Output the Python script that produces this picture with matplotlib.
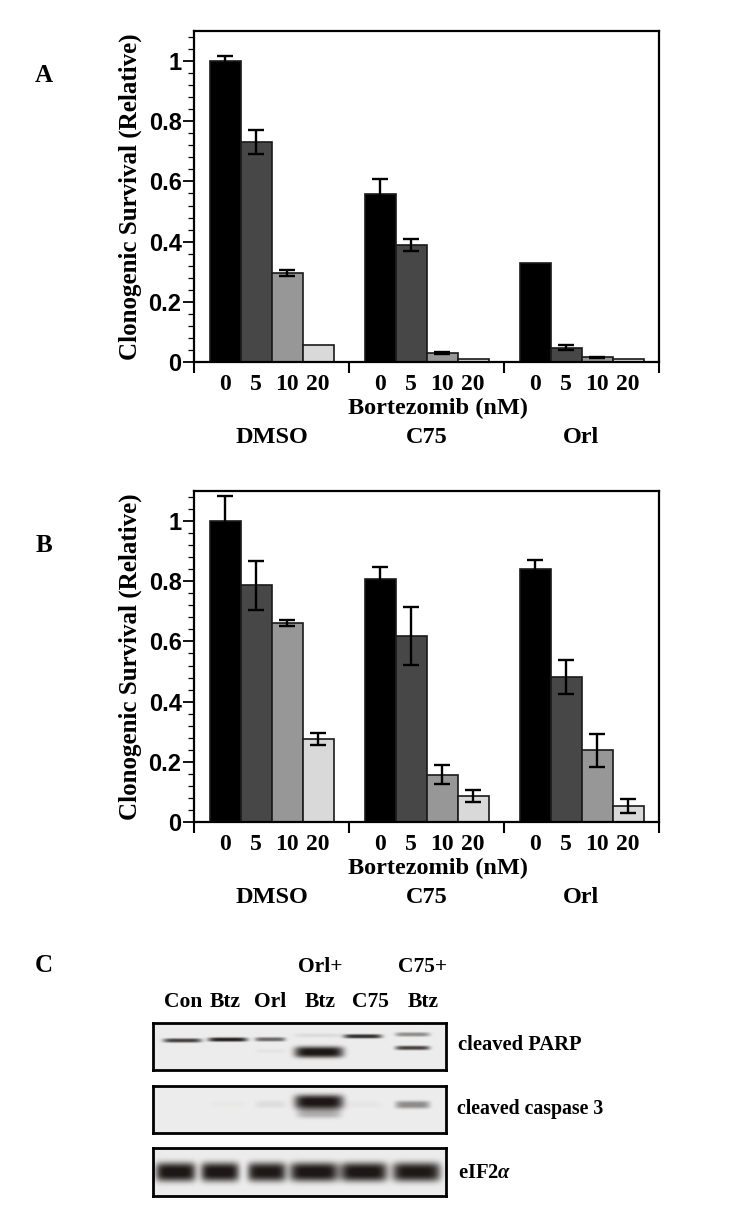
import numpy as np
import matplotlib
matplotlib.use('Agg')
import matplotlib.pyplot as plt
from matplotlib.ticker import MultipleLocator, FixedLocator
from matplotlib.colors import LinearSegmentedColormap
import matplotlib.transforms as mtrans

# ---- data ----
groups = ['DMSO', 'C75', 'Orl']
doses = ['0', '5', '10', '20']

a_dmso = [1.00, 0.73, 0.297, 0.056]
a_c75 = [0.559, 0.388, 0.029, 0.009]
a_orl = [0.328, 0.048, 0.016, 0.010]
a_dmso_err = [0.016, 0.04, 0.01, 0.0]
a_c75_err = [0.05, 0.02, 0.003, 0.0]
a_orl_err = [0.0, 0.007, 0.002, 0.0]

b_dmso = [1.00, 0.786, 0.661, 0.275]
b_c75 = [0.806, 0.618, 0.157, 0.086]
b_orl = [0.842, 0.482, 0.238, 0.052]
b_dmso_err = [0.083, 0.08, 0.01, 0.02]
b_c75_err = [0.04, 0.095, 0.032, 0.02]
b_orl_err = [0.03, 0.058, 0.055, 0.023]

# western blot (lane intensities, 0..1)
lane_lab = ['Con', 'Btz', 'Orl', 'Btz', 'C75', 'Btz']
lane_top = ['', '', '', 'Orl+', '', 'C75+']
lane_lab_x = [0.61, 1.47, 2.40, 3.42, 4.46, 5.53]
lane_x = [0.60, 1.53, 2.40, 3.40, 4.30, 5.32]
lane_w = [0.78, 0.80, 0.62, 1.00, 0.78, 0.70]
parp_hi = [0.80, 0.95, 0.62, 0.08, 0.88, 0.45]
parp_hi_y = [0.63, 0.65, 0.655, 0.74, 0.72, 0.76]
parp_lo = [0.0, 0.0, 0.04, 1.0, 0.0, 0.80]
parp_lo_y = [0.40, 0.40, 0.40, 0.38, 0.40, 0.47]
casp = [0.0, 0.02, 0.07, 1.0, 0.03, 0.45]
casp_y = [0.60, 0.60, 0.60, 0.65, 0.60, 0.59]
eif_x = [0.46, 1.37, 2.33, 3.30, 4.32, 5.40]
eif_w = [0.82, 0.78, 0.78, 1.00, 0.96, 0.98]
eif = [1.0, 1.0, 0.98, 1.0, 1.0, 0.98]

bar_colors = ['#000000', '#474747', '#979797', '#d9d9d9']

plt.rcParams['font.family'] = ['Liberation Serif', 'DejaVu Serif']
plt.rcParams['font.weight'] = 'bold'
plt.rcParams['mathtext.fontset'] = 'custom'
plt.rcParams['mathtext.rm'] = 'Liberation Serif:bold'
plt.rcParams['mathtext.it'] = 'Liberation Serif:italic:bold'
plt.rcParams['mathtext.bf'] = 'Liberation Serif:bold'

W, H = 750, 1224
fig = plt.figure(figsize=(W / 100, H / 100), dpi=100)


def fx(px):
    return px / W


def fy(py):
    return 1 - py / H


def bar_panel(ax, vals, errs):
    bw = 0.2
    for g, (v, e) in enumerate(zip(vals, errs)):
        xs = g + 0.1 + bw / 2 + bw * np.arange(4)
        ax.bar(xs, v, width=bw, color=bar_colors, edgecolor='#1a1a1a',
               linewidth=1.2, zorder=2)
        for x, vv, ee in zip(xs, v, e):
            if ee > 0:
                ax.errorbar(x, vv, yerr=ee, fmt='none', ecolor='black',
                            elinewidth=1.7, capsize=5.5, capthick=1.7, zorder=3)
    ax.set_xlim(0, 3)
    ax.set_ylim(0, 1.1)
    for s in ax.spines.values():
        s.set_linewidth(1.6)
    ax.xaxis.set_major_locator(FixedLocator([0, 1, 2, 3]))
    ax.set_xticklabels([])
    centers = [g + 0.2 + 0.2 * i for g in range(3) for i in range(4)]
    ax.xaxis.set_minor_locator(FixedLocator(centers))
    ax.set_xticklabels(doses * 3, minor=True, fontsize=17, fontweight='bold')
    ax.tick_params(axis='x', which='major', direction='out', length=8, width=1.5)
    ax.tick_params(axis='x', which='minor', length=0, pad=8.5)
    ax.yaxis.set_major_locator(FixedLocator([0, 0.2, 0.4, 0.6, 0.8, 1.0]))
    ax.yaxis.set_minor_locator(MultipleLocator(0.04))
    ax.set_yticklabels(['0', '0.2', '0.4', '0.6', '0.8', '1'],
                       family='Liberation Sans', fontsize=17, fontweight='bold')
    ax.tick_params(axis='y', which='major', direction='out', length=8, width=1.3, pad=1)
    ax.tick_params(axis='y', which='minor', direction='out', length=4.5, width=0.9)
    ax.set_ylabel('Clonogenic Survival (Relative)', fontsize=18, fontweight='bold',
                  labelpad=5)
    tr = mtrans.blended_transform_factory(ax.transData, ax.transAxes)
    ax.text(1.574, -0.139, 'Bortezomib (nM)', transform=tr, ha='center', va='center',
            fontsize=17.5, fontweight='bold')
    for g, name in enumerate(groups):
        ax.text(g + 0.5, -0.2266, name, transform=tr, ha='center', va='center',
                fontsize=17.5, fontweight='bold')


axA = fig.add_axes([fx(194), fy(362), fx(659) - fx(194), fy(31) - fy(362)])
bar_panel(axA, [a_dmso, a_c75, a_orl], [a_dmso_err, a_c75_err, a_orl_err])
axB = fig.add_axes([fx(194), fy(822), fx(659) - fx(194), fy(491) - fy(822)])
bar_panel(axB, [b_dmso, b_c75, b_orl], [b_dmso_err, b_c75_err, b_orl_err])

fig.text(fx(44), fy(75), 'A', fontsize=18, fontweight='bold', ha='center', va='center')
fig.text(fx(44), fy(545), 'B', fontsize=18, fontweight='bold', ha='center', va='center')
fig.text(fx(44), fy(965), 'C', fontsize=18, fontweight='bold', ha='center', va='center')

# ---- panel C: blot ----
blot_cmap = LinearSegmentedColormap.from_list('blot', ['#f1f1f1', '#1d1816'])
gx = np.linspace(0, 6, 600)
gy = np.linspace(0, 1, 80)
GX, GY = np.meshgrid(gx, gy)


def blot(ax, bands):
    img = np.zeros_like(GX) + 0.02
    for x, w, y, h, inten in bands:
        if inten <= 0:
            continue
        img += inten * np.exp(-np.abs((GX - x) / (w / 2)) ** 6) * \
            np.exp(-np.abs((GY - y) / (h / 2)) ** 3)
    ax.imshow(np.clip(img, 0, 1), cmap=blot_cmap, vmin=0, vmax=1,
              extent=(0, 6, 0, 1), origin='lower', aspect='auto',
              interpolation='bilinear')
    ax.set_xlim(0, 6)
    ax.set_ylim(0, 1)
    ax.set_xticks([])
    ax.set_yticks([])
    for s in ax.spines.values():
        s.set_linewidth(2)


bl = fx(153)
bw_ = fx(446) - fx(153)
ax1 = fig.add_axes([bl, fy(1070), bw_, fy(1023) - fy(1070)])
bands = [(x, w, y, 0.09, i) for x, w, y, i in zip(lane_x, lane_w, parp_hi_y, parp_hi)]
bands += [(x, w, y, 0.24 if i > 0.9 else 0.09, i)
          for x, w, y, i in zip(lane_x, lane_w, parp_lo_y, parp_lo)]
blot(ax1, bands)

ax2 = fig.add_axes([bl, fy(1133), bw_, fy(1086) - fy(1133)])
bands = [(x, w, y, 0.30 if i > 0.9 else 0.16, i)
         for x, w, y, i in zip(lane_x, lane_w, casp_y, casp)]
bands.append((lane_x[3], lane_w[3] * 0.9, 0.42, 0.22, 0.3))
blot(ax2, bands)

ax3 = fig.add_axes([bl, fy(1196), bw_, fy(1148) - fy(1196)])
bands = [(x, w, 0.5, 0.40, i) for x, w, i in zip(eif_x, eif_w, eif)]
blot(ax3, bands)

for x, lab, top in zip(lane_lab_x, lane_lab, lane_top):
    px = 153 + x / 6 * 293
    fig.text(fx(px), fy(1002), lab, fontsize=15.5, fontweight='bold', ha='center', va='center')
    if top:
        fig.text(fx(px), fy(967), top, fontsize=15.5, fontweight='bold', ha='center', va='center')

fig.text(fx(458), fy(1045), 'cleaved PARP', fontsize=14.8, fontweight='bold', va='center')
fig.text(fx(457), fy(1109), 'cleaved caspase 3', fontsize=14.3, fontweight='bold', va='center')
fig.text(fx(458), fy(1173), 'eIF2$\\alpha$', fontsize=14.8, fontweight='bold', va='center')

fig.savefig('out.png', dpi=100)
